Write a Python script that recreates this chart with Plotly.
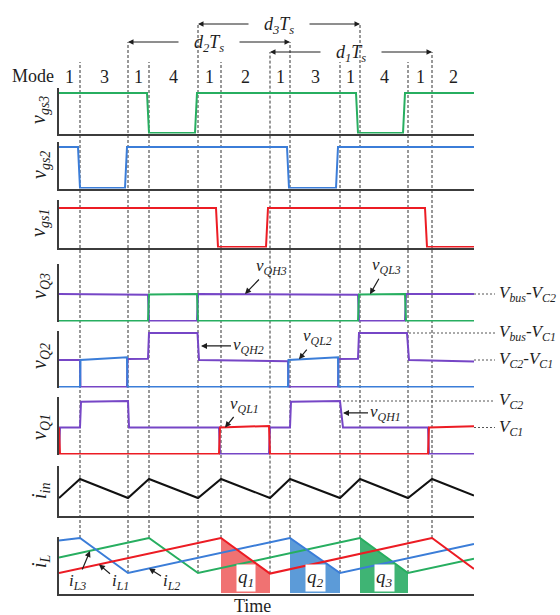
import plotly.graph_objects as go

W, H = 560, 615
FONT = "Liberation Serif"
INK = "#1e1e1e"
AXIS = "#3c3c3c"
GREEN, BLUE, RED, PURPLE = "#27AE60", "#3B7DD8", "#EC1C24", "#7646C6"
FILL = {"1": "#F07272", "2": "#5C9BD8", "3": "#3FB474"}

# ---------------- data ----------------
T_END = 415
mode_edges = [0, 21, 69, 90, 139, 162, 211, 231, 281, 301, 349, 373, 415]
mode_labels = ["1", "3", "1", "4", "1", "2", "1", "3", "1", "4", "1", "2"]

# gate signals (0 = off, 1 = on)
vgs3_t = [0, 88, 90, 136, 138, 297, 299, 344, 346, 415]
vgs3_v = [1, 1, 0, 0, 1, 1, 0, 0, 1, 1]
vgs2_t = [0, 19, 21, 66, 68, 228, 230, 277, 279, 415]
vgs2_v = [1, 1, 0, 0, 1, 1, 0, 0, 1, 1]
vgs1_t = [0, 157, 159, 207, 209, 366, 368, 415]
vgs1_v = [1, 1, 0, 0, 1, 1, 0, 0]

# switch voltages (normalised: VC1 = 1, VC2 = 2, Vbus = 3)
vqh3_t = [0, 60, 89, 90, 138, 139, 230, 299, 300, 346, 347, 415]
vqh3_v = [1.0, 0.99, 0.97, 0, 0, 1.0, 0.99, 0.97, 0, 0, 1.0, 1.0]
vql3_t = [0, 89, 90, 138, 139, 299, 300, 346, 347, 415]
vql3_v = [0, 0, 0.98, 1.0, 0, 0, 0.98, 1.0, 0, 0]

vqh2_t = [0, 21, 21.5, 68, 68.5, 89, 90, 138.5, 140, 229, 229.5, 279, 279.5, 299, 300, 348, 350, 415]
vqh2_v = [1.0, 1.0, 0, 0, 1.04, 1.05, 2.0, 2.0, 1.0, 0.95, 0, 0, 1.04, 1.05, 2.0, 2.0, 1.0, 0.94]
vql2_t = [0, 21, 21.5, 68, 68.5, 229, 229.5, 279, 279.5, 415]
vql2_v = [0, 0, 1.0, 1.1, 0, 0, 1.0, 1.1, 0, 0]

vqh1_t = [0, 1, 21, 22, 69, 70, 160, 161, 210, 211, 231, 232, 281, 284, 369, 370, 415]
vqh1_v = [0, 1.0, 1.0, 1.97, 2.0, 1.0, 1.0, 0, 0, 1.0, 1.0, 1.97, 2.0, 1.0, 1.0, 0, 0]
vql1_t = [0, 1, 160, 161, 210, 211, 369, 370, 415]
vql1_v = [1.0, 0, 0, 1.0, 1.06, 0, 0, 1.0, 1.05]

# input current
iin_t = [0, 21, 69, 90, 139, 162, 211, 231, 281, 301, 349, 373, 415]
iin_v = [0.85, 1.8, 0.85, 1.8, 0.85, 1.8, 0.85, 1.8, 0.85, 1.8, 0.85, 1.8, 0.97]

# inductor currents
il1_t = [0, 162, 211, 373, 415]
il1_v = [1.0, 2.75, 0.97, 2.75, 1.2]
il2_t = [0, 21, 69, 231, 281, 415]
il2_v = [2.62, 2.75, 1.0, 2.75, 1.0, 2.45]
il3_t = [0, 90, 139, 301, 349, 415]
il3_v = [1.77, 2.75, 1.0, 2.75, 1.0, 1.71]

# d_k*Ts intervals as (start edge index, end edge index)
d_intervals = {"3": (4, 9), "2": (2, 7), "1": (6, 11)}

# ---------------- geometry ----------------
X0, X1 = 59, 474
# (zero-line px, px per unit, top px)
panels = [(133, 40, 88), (188, 41, 142), (247, 39, 200), (321, 27, 264),
          (387, 27, 331), (454, 26.5, 397), (515, 20, 466), (593, 20, 537)]
doms, rngs = [], []
for z, k, top in panels:
    doms.append([1 - (z + 0.5) / H, 1 - top / H])
    rngs.append([-0.5 / k, (z - top) / k])


def names(i):
    n = "" if i == 0 else str(i + 1)
    return "x" + n, "y" + n


def ypaper(i, v):
    d, r = doms[i], rngs[i]
    return d[0] + (v - r[0]) / (r[1] - r[0]) * (d[1] - d[0])


def xpaper(t):
    return (X0 + (t / T_END) * (X1 - X0)) / W


layout = dict(width=W, height=H, margin=dict(l=0, r=0, t=0, b=0),
              paper_bgcolor="white", plot_bgcolor="rgba(0,0,0,0)",
              showlegend=False, hovermode=False)
bottom_line = [True, True, True, False, False, False, True, True]
for i in range(8):
    xa, ya = names(i)
    n = xa[1:]
    xd = dict(domain=[X0 / W, X1 / W], range=[0, T_END], anchor=ya,
              showline=bottom_line[i], linecolor=AXIS, linewidth=2,
              showticklabels=False, ticks="", showgrid=False, zeroline=False,
              layer="below traces", fixedrange=True)
    if i:
        xd["matches"] = "x"
    layout["xaxis" + n] = xd
    layout["yaxis" + n] = dict(domain=doms[i], range=rngs[i], anchor=xa,
                               showline=True, linecolor=AXIS, linewidth=2,
                               showticklabels=False, ticks="", showgrid=False,
                               zeroline=False, layer="below traces", fixedrange=True)

fig = go.Figure()


def add(t, v, color, panel, width=2):
    xa, ya = names(panel)
    fig.add_trace(go.Scatter(x=t, y=v, mode="lines", line=dict(color=color, width=width),
                             xaxis=xa, yaxis=ya, hoverinfo="skip"))


add(vgs3_t, vgs3_v, GREEN, 0)
add(vgs2_t, vgs2_v, BLUE, 1)
add(vgs1_t, vgs1_v, RED, 2)
add(vqh3_t, vqh3_v, PURPLE, 3)
add(vql3_t, vql3_v, GREEN, 3)
add(vqh2_t, vqh2_v, PURPLE, 4)
add(vql2_t, vql2_v, BLUE, 4)
add(vqh1_t, vqh1_v, PURPLE, 5)
add(vql1_t, vql1_v, RED, 5)
add(iin_t, iin_v, "#111111", 6)

# charge areas q1, q2, q3 (falling segments of each inductor current)
xa8, ya8 = names(7)
q_specs = [("1", il1_t, il1_v, 1), ("2", il2_t, il2_v, 3), ("3", il3_t, il3_v, 3)]
q_centres = []
for lab, tt, vv, k in q_specs:
    ta, tb, va, vb = tt[k], tt[k + 1], vv[k], vv[k + 1]
    fig.add_trace(go.Scatter(x=[ta, ta, tb, tb], y=[0, va, vb, 0], mode="lines",
                             fill="toself", fillcolor=FILL[lab], line=dict(width=0),
                             xaxis=xa8, yaxis=ya8, hoverinfo="skip"))
    q_centres.append((lab, (ta + tb) / 2))

add(il3_t, il3_v, GREEN, 7)
add(il2_t, il2_v, BLUE, 7)
add(il1_t, il1_v, RED, 7)

# ---------------- dashed mode boundaries ----------------
il_vertices = {}
for tt, vv in ((il1_t, il1_v), (il2_t, il2_v), (il3_t, il3_v)):
    for a, b in zip(tt[1:-1], vv[1:-1]):
        il_vertices[a] = b

d_arrow_y = {"3": 24, "2": 42, "1": 52}
top_px = {e: 62 for e in mode_edges[1:-1]}
for lab, (ia, ib) in d_intervals.items():
    top_px[mode_edges[ia]] = d_arrow_y[lab]
    top_px[mode_edges[ib]] = d_arrow_y[lab]

shapes = []
for e in mode_edges[1:-1]:
    shapes.append(dict(type="line", xref="x", yref="paper", x0=e, x1=e,
                       y0=ypaper(7, il_vertices[e]), y1=1 - top_px[e] / H,
                       line=dict(color="#333333", width=1, dash="3px,2px"), layer="below"))

ann = []
tf = dict(family=FONT, color=INK)
C = dict(xanchor="center", yanchor="middle")

# mode row
ann.append(dict(x=56 / W, y=1 - 76 / H, xref="paper", yref="paper", xanchor="right",
                yanchor="middle", text="Mode", showarrow=False, font=dict(size=18, **tf)))
for a, b, lab in zip(mode_edges[:-1], mode_edges[1:], mode_labels):
    ann.append(dict(x=(a + b) / 2, y=1 - 77 / H, xref="x", yref="paper", text=lab,
                    showarrow=False, font=dict(size=18, **tf), **C))

# d_k Ts arrows
for lab, (ia, ib) in d_intervals.items():
    ta, tb = mode_edges[ia], mode_edges[ib]
    mid = (ta + tb) / 2
    yp = 1 - d_arrow_y[lab] / H
    ann.append(dict(x=mid, y=1 - (d_arrow_y[lab] + 2) / H, xref="x", yref="paper",
                    showarrow=False,
                    text=f"<i>d</i><sub><i>{lab}</i></sub><i>T</i><sub><i>s</i></sub>",
                    font=dict(size=18, **tf), **C))
    for head, tail in ((ta, mid - 29), (tb, mid + 29)):
        ann.append(dict(x=head, y=yp, xref="x", yref="paper", ax=tail, ay=0,
                        axref="x", ayref="pixel", text="", showarrow=True,
                        arrowhead=2, arrowsize=1.1, arrowwidth=1, arrowcolor=INK))

# y-axis labels
ylabels = [("v", "gs3", 110), ("v", "gs2", 165), ("v", "gs1", 223), ("v", "Q3", 286),
           ("v", "Q2", 356), ("v", "Q1", 427), ("i", "in", 491), ("i", "L", 561)]
for m, s, yc in ylabels:
    ann.append(dict(x=40 / W, y=1 - yc / H, xref="paper", yref="paper", textangle=-90,
                    text=f"<i>{m}</i><sub><i>{s}</i></sub>", showarrow=False,
                    font=dict(size=20, **tf), **C))

# pointer labels
pointers = [("v", "QH3", 3, 186, 1.0, 26, -27), ("v", "QL3", 3, 311, 0.99, 16, -28),
            ("v", "QH2", 4, 142, 1.52, 47, 0), ("v", "QL2", 4, 240, 1.03, 18, -22),
            ("v", "QL1", 5, 166, 1.0, 19, -23), ("v", "QH1", 5, 284, 1.55, 42, 0),
            ("i", "L3", 7, 31, 2.1, -13, 31), ("i", "L1", 7, 40, 1.43, 21, 18),
            ("i", "L2", 7, 90, 1.23, 22, 14)]
for m, s, p, tx, vy, axp, ayp in pointers:
    xa, ya = names(p)
    ann.append(dict(x=tx, y=vy, xref=xa, yref=ya, ax=axp, ay=ayp,
                    text=f"<i>{m}</i><sub><i>{s}</i></sub>", showarrow=True,
                    arrowhead=2, arrowsize=1, arrowwidth=1.2, arrowcolor=INK,
                    font=dict(size=17, **tf)))

# right-hand level labels with dotted leaders
levels = [(3, 1.0, T_END, "<i>V</i><sub><i>bus</i></sub>-<i>V</i><sub><i>C2</i></sub>"),
          (4, 2.0, 350, "<i>V</i><sub><i>bus</i></sub>-<i>V</i><sub><i>C1</i></sub>"),
          (4, 1.0, T_END, "<i>V</i><sub><i>C2</i></sub>-<i>V</i><sub><i>C1</i></sub>"),
          (5, 2.0, 284, "<i>V</i><sub><i>C2</i></sub>"),
          (5, 1.0, T_END, "<i>V</i><sub><i>C1</i></sub>")]
for p, lv, tstart, txt in levels:
    xa, ya = names(p)
    shapes.append(dict(type="line", xref="paper", yref=ya, x0=xpaper(tstart), x1=495 / W,
                       y0=lv, y1=lv, line=dict(color="#555555", width=1, dash="2px,2px")))
    ann.append(dict(x=497 / W, y=lv, xref="paper", yref=ya, xanchor="left",
                    yanchor="middle", text=txt,
                    showarrow=False, font=dict(size=17, **tf)))

# q labels
for lab, tc in q_centres:
    ann.append(dict(x=tc, y=0.75, xref=xa8, yref=ya8, text=f"<i>q</i><sub><i>{lab}</i></sub>",
                    showarrow=False, bgcolor="white", borderpad=1,
                    font=dict(size=19, **tf), **C))

ann.append(dict(x=252 / W, y=1 - 606 / H, xref="paper", yref="paper", text="Time",
                showarrow=False, font=dict(size=18, **tf), **C))

layout["shapes"] = shapes
layout["annotations"] = ann
fig.update_layout(**layout)
fig.write_html("out.html")
